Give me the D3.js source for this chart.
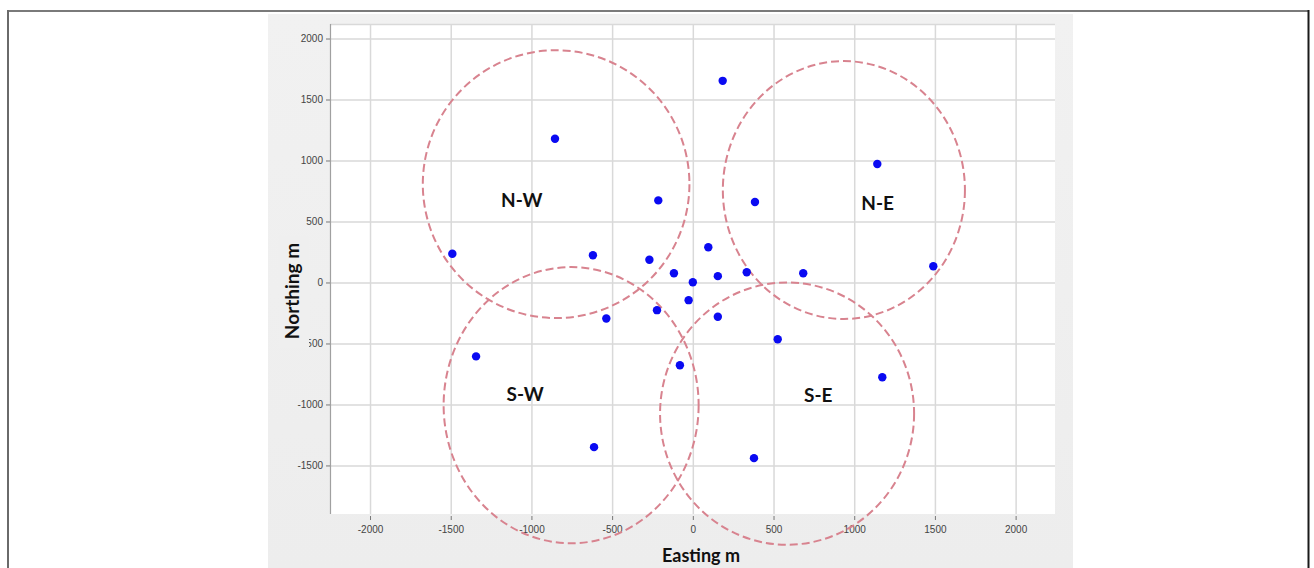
<!DOCTYPE html>
<html>
<head>
<meta charset="utf-8">
<script src="https://cdn.jsdelivr.net/npm/d3@7"></script>
<style>
  html, body { margin: 0; padding: 0; background: #ffffff; }
  svg { display: block; }
</style>
</head>
<body>
<svg id="chart" width="1314" height="568"></svg>
<script>
// ---- data ----
const eastings  = [185, -854, -214, 385, 1143, -1490, -619, -269, 96, -117, 0, 155, 334, 684, 1490, -26, -222, -536, 155, 526, -1343, -80, 1174, -612, 379];
const northings = [1653, 1178, 673, 660, 971, 235, 223, 186, 289, 76, 2, 52, 84, 76, 133, -145, -227, -295, -281, -466, -606, -679, -777, -1350, -1440];

const zoneNames    = ["N-W", "N-E", "S-W", "S-E"];
const zoneCentreE  = [-847, 936, -754, 584];
const zoneCentreN  = [806, 758, -1006, -1075];
const zoneRadiusE  = [826, 750, 790, 787];
const zoneRadiusN  = [1098, 1057, 1132, 1075];
const labelE       = [-1060, 1145, -1039, 777];
const labelN       = [679, 652, -912, -917];

const xTicks = [-2000, -1500, -1000, -500, 0, 500, 1000, 1500, 2000];
const yTicks = [-1500, -1000, -500, 0, 500, 1000, 1500, 2000];
const xDomain = [-2248, 2244];
const yDomain = [-1898, 2119];

// ---- layout ----
const svg = d3.select("#chart");
const plot = { left: 330, right: 1055, top: 24, bottom: 514 };

const x = d3.scaleLinear().domain(xDomain).range([plot.left, plot.right]);
const y = d3.scaleLinear().domain(yDomain).range([plot.bottom, plot.top]);
const fmt = d => String(d);

// outer frame
svg.append("line").attr("x1", 7).attr("x2", 1309).attr("y1", 11).attr("y2", 11)
  .attr("stroke", "#7a7a7a").attr("stroke-width", 2);
svg.append("line").attr("x1", 8).attr("x2", 8).attr("y1", 10).attr("y2", 568)
  .attr("stroke", "#6a6a6a").attr("stroke-width", 2);
svg.append("line").attr("x1", 1308.5).attr("x2", 1308.5).attr("y1", 10).attr("y2", 568)
  .attr("stroke", "#1a1a1a").attr("stroke-width", 2);

// grey chart panel
const grad = svg.append("defs").append("linearGradient").attr("id", "panelGrad")
  .attr("x1", 0).attr("x2", 0).attr("y1", 0).attr("y2", 1);
grad.append("stop").attr("offset", "0%").attr("stop-color", "#f1f1f1");
grad.append("stop").attr("offset", "100%").attr("stop-color", "#ededed");
svg.append("rect").attr("x", 268).attr("y", 14).attr("width", 805).attr("height", 554)
  .attr("fill", "url(#panelGrad)");

// white plot area
svg.append("rect").attr("x", plot.left).attr("y", plot.top)
  .attr("width", plot.right - plot.left).attr("height", plot.bottom - plot.top)
  .attr("fill", "#ffffff");

// grid
const gridColor = "#d9d9d9";
svg.append("g")
  .attr("transform", `translate(0,${plot.bottom})`)
  .call(d3.axisBottom(x).tickValues(xTicks).tickSize(-(plot.bottom - plot.top)).tickFormat(""))
  .call(g => g.select(".domain").remove())
  .call(g => g.selectAll("line").attr("stroke", gridColor).attr("stroke-width", 1.5));
svg.append("g")
  .attr("transform", `translate(${plot.left},0)`)
  .call(d3.axisLeft(y).tickValues(yTicks).tickSize(-(plot.right - plot.left)).tickFormat(""))
  .call(g => g.select(".domain").remove())
  .call(g => g.selectAll("line").attr("stroke", gridColor).attr("stroke-width", 1.5));
// top border of plot
svg.append("line").attr("x1", plot.left).attr("x2", plot.right)
  .attr("y1", plot.top + 0.5).attr("y2", plot.top + 0.5)
  .attr("stroke", gridColor).attr("stroke-width", 1.5);

// y axis
const yAxis = svg.append("g")
  .attr("transform", `translate(${plot.left},0)`)
  .call(d3.axisLeft(y).tickValues(yTicks).tickSize(4).tickPadding(3).tickFormat(fmt));
yAxis.select(".domain").attr("stroke", "#a0a0a0").attr("stroke-width", 1.2)
  .attr("d", `M0.5,${plot.top}V${plot.bottom}`);
yAxis.selectAll(".tick line").attr("stroke", "#777").attr("stroke-width", 1);
yAxis.selectAll("text").attr("font-family", "Liberation Sans, Arial, sans-serif")
  .attr("font-size", 10).attr("fill", "#444");

// x axis
const xAxis = svg.append("g")
  .attr("transform", `translate(0,${plot.bottom + 2})`)
  .call(d3.axisBottom(x).tickValues(xTicks).tickSize(4).tickPadding(6).tickFormat(fmt));
xAxis.select(".domain").remove();
xAxis.selectAll(".tick line").attr("stroke", "#777").attr("stroke-width", 1);
xAxis.selectAll("text").attr("font-family", "Liberation Sans, Arial, sans-serif")
  .attr("font-size", 10).attr("fill", "#444");

// zone ellipses
svg.append("g").selectAll("ellipse")
  .data(zoneNames.map((n, i) => i))
  .join("ellipse")
  .attr("cx", i => x(zoneCentreE[i]))
  .attr("cy", i => y(zoneCentreN[i]))
  .attr("rx", i => x(zoneRadiusE[i]) - x(0))
  .attr("ry", i => y(0) - y(zoneRadiusN[i]))
  .attr("fill", "none")
  .attr("stroke", "#d8838f")
  .attr("stroke-width", 2)
  .attr("stroke-dasharray", "8,4");

// zone labels
svg.append("g").selectAll("text")
  .data(zoneNames.map((n, i) => i))
  .join("text")
  .attr("x", i => x(labelE[i]))
  .attr("y", i => y(labelN[i]))
  .attr("text-anchor", "middle")
  .attr("dominant-baseline", "central")
  .attr("font-family", "Lato, 'Open Sans', sans-serif")
  .attr("font-weight", "bold")
  .attr("font-size", 19)
  .attr("fill", "#111")
  .text(i => zoneNames[i]);

// points
svg.append("g").selectAll("circle")
  .data(eastings.map((e, i) => i))
  .join("circle")
  .attr("cx", i => x(eastings[i]))
  .attr("cy", i => y(northings[i]))
  .attr("r", 4.2)
  .attr("fill", "#0a0af2");

// axis titles
svg.append("rect").attr("x", 279).attr("y", 236).attr("width", 30).attr("height", 112)
  .attr("fill", "#efefef");
svg.append("text")
  .attr("transform", "translate(291,291) rotate(-90)")
  .attr("text-anchor", "middle")
  .attr("dominant-baseline", "central")
  .attr("font-family", "Lato, 'Open Sans', sans-serif")
  .attr("font-weight", "bold")
  .attr("font-size", 19)
  .attr("fill", "#111")
  .text("Northing m");

svg.append("text")
  .attr("x", 701).attr("y", 562)
  .attr("text-anchor", "middle")
  .attr("font-family", "Lato, 'Open Sans', sans-serif")
  .attr("font-weight", "bold")
  .attr("font-size", 18)
  .attr("fill", "#111")
  .text("Easting m");
</script>
</body>
</html>
